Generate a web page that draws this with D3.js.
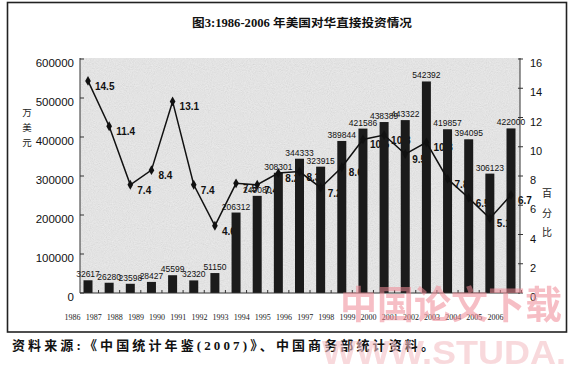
<!DOCTYPE html>
<html><head><meta charset="utf-8">
<script src="https://cdn.jsdelivr.net/npm/d3@7"></script>
<style>html,body{margin:0;padding:0;background:#fff;}svg{display:block;}</style>
</head><body>
<svg id="c" width="570" height="368"></svg>
<script>
const years = [1986,1987,1988,1989,1990,1991,1992,1993,1994,1995,1996,1997,1998,1999,2000,2001,2002,2003,2004,2005,2006];
const investment = [32617,26280,23598,28427,45599,32320,51150,206312,249080,308301,344333,323915,389844,421586,438389,443322,542392,419857,394095,306123,422000];
const percent = [14.5,11.4,7.4,8.4,13.1,7.4,4.6,7.5,7.4,8.2,8.3,7.2,8.6,10.5,10.8,9.5,10.3,7.8,6.5,5.1,6.7];
const leftTicks = [0,100000,200000,300000,400000,500000,600000];
const rightTicks = [0,2,4,6,8,10,12,14,16];
const titleText = "图3:1986-2006 年美国对华直接投资情况";
const leftTitle = ["万","美","元"];
const rightTitle = ["百","分","比"];
const sourceText = "资料来源:《中国统计年鉴(2007)》、中国商务部统计资料。";

const svg = d3.select("#c");
const defs = svg.append("defs");
const f = defs.append("filter").attr("id","noise").attr("x",0).attr("y",0).attr("width","100%").attr("height","100%");
f.append("feTurbulence").attr("type","fractalNoise").attr("baseFrequency",0.95).attr("numOctaves",2).attr("seed",4).attr("stitchTiles","stitch");
f.append("feColorMatrix").attr("type","matrix").attr("values","0.33 0.33 0.33 0 0  0.33 0.33 0.33 0 0  0.33 0.33 0.33 0 0  0 0 0 0 0.22");

const L = 80, R = 520, T = 58, B = 293;
const x = d3.scalePoint().domain(years).range([88,511]);
const bw = 9;
const yL = d3.scaleLinear().domain([0,600000]).range([B,59]);
const yR = d3.scaleLinear().domain([0,16]).range([B,59]);

// frame
svg.append("rect").attr("x",7.5).attr("y",2.5).attr("width",559).attr("height",329.5)
  .attr("fill","none").attr("stroke","#222").attr("stroke-width",1.6);

// title
svg.append("text").attr("x",192).attr("y",27).attr("textLength",220).attr("lengthAdjust","spacingAndGlyphs")
  .attr("font-family","'Liberation Serif','Noto Sans CJK SC',serif").attr("font-weight","bold")
  .attr("font-size",11.5).attr("fill","#111").text(titleText);

// plot background
svg.append("rect").attr("x",L).attr("y",T).attr("width",R-L).attr("height",B-T).attr("fill","#eeeeee");
svg.append("rect").attr("x",L).attr("y",T).attr("width",R-L).attr("height",B-T).attr("fill","#fff").attr("filter","url(#noise)");

// line labels (under bars)
svg.append("g").selectAll("text").data(years).join("text")
  .attr("x",(d)=>x(d)+7).attr("y",(d,i)=>yR(percent[i])+9)
  .attr("font-family","'Liberation Sans',Arial,sans-serif").attr("font-weight","bold")
  .attr("font-size",10).attr("fill","#111").text((d,i)=>percent[i].toFixed(1));

// bars
svg.append("g").selectAll("rect").data(years).join("rect")
  .attr("x",d=>x(d)-bw/2).attr("width",bw)
  .attr("y",(d,i)=>yL(investment[i])).attr("height",(d,i)=>B-yL(investment[i]))
  .attr("fill","#1b1b1b");

// bar labels
svg.append("g").selectAll("text").data(years).join("text")
  .attr("x",d=>x(d)).attr("y",(d,i)=>yL(investment[i])-3).attr("text-anchor","middle")
  .attr("font-family","'Liberation Sans',Arial,sans-serif").attr("font-size",8.5).attr("fill","#111")
  .text((d,i)=>investment[i]);

// line
const line = d3.line().x(d=>x(d)).y((d,i)=>yR(percent[i]));
svg.append("path").datum(years).attr("d",line).attr("fill","none").attr("stroke","#111").attr("stroke-width",1.5);
svg.append("g").selectAll("path").data(years).join("path")
  .attr("d",d3.symbol(d3.symbolDiamond,28))
  .attr("transform",(d,i)=>`translate(${x(d)},${yR(percent[i])})`).attr("fill","#111");

// axes lines
const ax = svg.append("g").attr("stroke","#333").attr("stroke-width",1);
ax.append("line").attr("x1",L).attr("x2",L).attr("y1",T).attr("y2",B);
ax.append("line").attr("x1",R).attr("x2",R).attr("y1",T).attr("y2",B);
ax.append("line").attr("x1",L).attr("x2",R).attr("y1",B).attr("y2",B);
ax.selectAll(".lt").data(leftTicks).join("line").attr("x1",L).attr("x2",L+4).attr("y1",d=>yL(d)).attr("y2",d=>yL(d));
ax.selectAll(".rt").data(rightTicks).join("line").attr("x1",R-2).attr("x2",R+3).attr("y1",d=>yR(d)).attr("y2",d=>yR(d));
ax.selectAll(".bt").data(years).join("line").attr("x1",d=>x(d)+10.5).attr("x2",d=>x(d)+10.5).attr("y1",B).attr("y2",B-3);

// tick labels
svg.append("g").selectAll("text").data(leftTicks).join("text")
  .attr("x",74).attr("y",d=>yL(d)+8).attr("text-anchor","end")
  .attr("font-family","'Liberation Sans',Arial,sans-serif").attr("font-size",11.5).attr("fill","#111").text(d=>d);
svg.append("g").selectAll("text").data(rightTicks).join("text")
  .attr("x",530).attr("y",d=>yR(d)+8)
  .attr("font-family","'Liberation Sans',Arial,sans-serif").attr("font-size",11).attr("fill","#111").text(d=>d);
svg.append("g").selectAll("text").data(years).join("text")
  .attr("x",d=>x(d)-15.5).attr("y",320).attr("text-anchor","middle")
  .attr("font-family","'Liberation Serif','Times New Roman',serif").attr("font-size",8).attr("fill","#222").text(d=>d);

// axis titles
svg.append("g").selectAll("text").data(leftTitle).join("text")
  .attr("x",27).attr("y",(d,i)=>116+i*15).attr("text-anchor","middle")
  .attr("font-family","'Noto Sans CJK SC',sans-serif").attr("font-size",9.5).attr("fill","#222").text(d=>d);
svg.append("g").selectAll("text").data(rightTitle).join("text")
  .attr("x",547).attr("y",(d,i)=>197+i*19.5).attr("text-anchor","middle")
  .attr("font-family","'Noto Sans CJK SC',sans-serif").attr("font-size",10).attr("fill","#222").text(d=>d);

// source
svg.append("text").attr("x",12).attr("y",350).attr("textLength",422).attr("lengthAdjust","spacing")
  .attr("font-family","'Liberation Serif','Noto Sans CJK SC',serif").attr("font-weight","bold")
  .attr("font-size",13).attr("fill","#111").text(sourceText);

// watermark
svg.append("text").attr("x",340).attr("y",318).attr("textLength",222).attr("lengthAdjust","spacingAndGlyphs")
  .attr("font-family","'Noto Sans CJK SC',sans-serif").attr("font-weight","bold").attr("font-size",38)
  .attr("fill","#f08a96").attr("opacity",0.55).text("中国论文下载");
svg.append("text").attr("x",322).attr("y",364).attr("textLength",244).attr("lengthAdjust","spacingAndGlyphs")
  .attr("font-family","'Liberation Sans',Arial,sans-serif").attr("font-weight","bold").attr("font-size",34)
  .attr("fill","#f4c0c6").attr("opacity",0.6).text("WWW.STUDA.");
</script>
</body></html>
